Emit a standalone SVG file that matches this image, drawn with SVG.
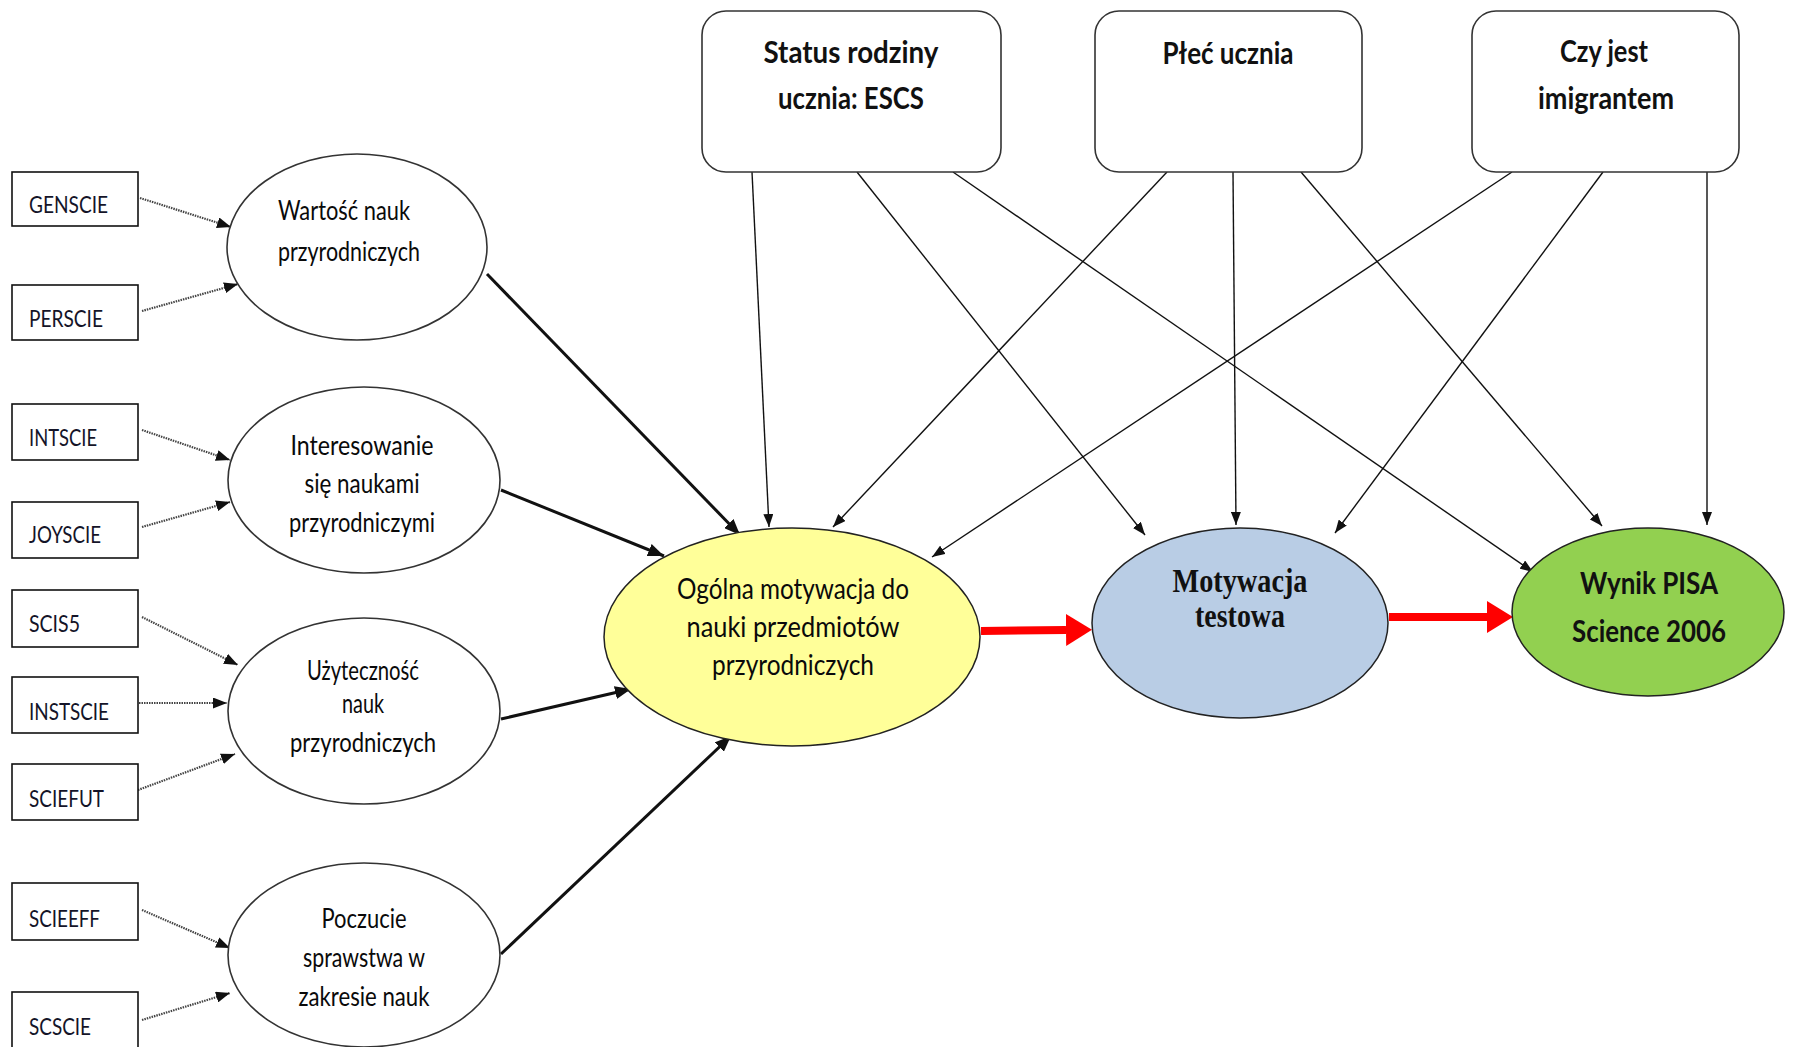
<svg xmlns="http://www.w3.org/2000/svg" width="1793" height="1047" viewBox="0 0 1793 1047">
<style>
.bg{fill:#fff}
.topbox{fill:#fff;stroke:#333;stroke-width:1.6}
.ind{fill:#fff;stroke:#111;stroke-width:1.6}
.lat{fill:#fff;stroke:#333;stroke-width:1.6}
.main{stroke:#222;stroke-width:1.5}
.tb{font-family:Lato,"Liberation Sans",sans-serif;font-weight:bold;font-size:31px;fill:#111;text-anchor:middle}
.ti{font-family:Lato,"Liberation Sans",sans-serif;font-size:23px;fill:#141428}
.te{font-family:Lato,"Liberation Sans",sans-serif;font-size:26px;fill:#0a0a0a;text-anchor:middle}
.tg{font-family:Lato,"Liberation Sans",sans-serif;font-size:29px;fill:#0a0a0a;text-anchor:middle}
.tw{font-family:Lato,"Liberation Sans",sans-serif;font-weight:bold;font-size:30px;fill:#111;text-anchor:middle}
.ts{font-family:"Liberation Serif","Times New Roman",serif;font-weight:bold;font-size:34px;fill:#111;text-anchor:middle}
.thin{fill:none;stroke:#111;stroke-width:1.4;marker-end:url(#aThin)}
.thick{fill:none;stroke:#111;stroke-width:3;marker-end:url(#aThick)}
.dot{fill:none;stroke:#444;stroke-width:2.2;stroke-dasharray:1.5 1;marker-end:url(#aDot)}
.red{fill:none;stroke:#ff0000;stroke-width:8;marker-end:url(#aRed)}
</style>
<defs>
<marker id="aThin" markerUnits="userSpaceOnUse" markerWidth="13" markerHeight="10" refX="13" refY="5" orient="auto"><path d="M0,0 L13,5 L0,10 z" fill="#111"/></marker>
<marker id="aThick" markerUnits="userSpaceOnUse" markerWidth="16" markerHeight="13" refX="16" refY="6.5" orient="auto"><path d="M0,0 L16,6.5 L0,13 z" fill="#111"/></marker>
<marker id="aDot" markerUnits="userSpaceOnUse" markerWidth="14" markerHeight="11" refX="14" refY="5.5" orient="auto"><path d="M0,0 L14,5.5 L0,11 z" fill="#111"/></marker>
<marker id="aRed" markerUnits="userSpaceOnUse" markerWidth="26" markerHeight="32" refX="0" refY="16" orient="auto"><path d="M0,0 L26,16 L0,32 z" fill="#ff0000"/></marker>
</defs>
<rect class="bg" x="0" y="0" width="1793" height="1047"/>

<g id="connectors">
<line class="dot" x1="140" y1="198" x2="231" y2="227"/>
<line class="dot" x1="142" y1="311" x2="238" y2="284"/>
<line class="dot" x1="142" y1="430" x2="230" y2="460"/>
<line class="dot" x1="142" y1="527" x2="230" y2="502"/>
<line class="dot" x1="142" y1="617" x2="238" y2="665"/>
<line class="dot" x1="139" y1="703" x2="227" y2="703"/>
<line class="dot" x1="138" y1="790" x2="235" y2="754"/>
<line class="dot" x1="142" y1="910" x2="230" y2="948"/>
<line class="dot" x1="142" y1="1020" x2="230" y2="993"/>
<line class="thick" x1="487" y1="274" x2="740" y2="535"/>
<line class="thick" x1="501" y1="490" x2="664" y2="556"/>
<line class="thick" x1="501" y1="719" x2="631" y2="689"/>
<line class="thick" x1="501" y1="954" x2="731" y2="736"/>
<line class="thin" x1="752" y1="172" x2="769" y2="527"/>
<line class="thin" x1="857" y1="172" x2="1145" y2="535"/>
<line class="thin" x1="953" y1="172" x2="1533" y2="572"/>
<line class="thin" x1="1167" y1="172" x2="833" y2="527"/>
<line class="thin" x1="1233" y1="172" x2="1236" y2="525"/>
<line class="thin" x1="1301" y1="172" x2="1602" y2="526"/>
<line class="thin" x1="1512" y1="172" x2="932" y2="557"/>
<line class="thin" x1="1603" y1="172" x2="1335" y2="533"/>
<line class="thin" x1="1707" y1="172" x2="1707" y2="525"/>
<line class="red" x1="981" y1="631" x2="1066" y2="630"/>
<line class="red" x1="1389" y1="617" x2="1487" y2="617"/>
</g>

<g id="status">
<rect class="topbox" x="702" y="11" width="299" height="161" rx="24"/>
<text class="tb" x="851" y="63" textLength="175" lengthAdjust="spacingAndGlyphs">Status rodziny</text>
<text class="tb" x="851" y="109" textLength="146" lengthAdjust="spacingAndGlyphs">ucznia: ESCS</text>
</g>
<g id="plec">
<rect class="topbox" x="1095" y="11" width="267" height="161" rx="24"/>
<text class="tb" x="1228" y="64" textLength="131" lengthAdjust="spacingAndGlyphs">Płeć ucznia</text>
</g>
<g id="imigrant">
<rect class="topbox" x="1472" y="11" width="267" height="161" rx="24"/>
<text class="tb" x="1604" y="62" textLength="88" lengthAdjust="spacingAndGlyphs">Czy jest</text>
<text class="tb" x="1606" y="109" textLength="136" lengthAdjust="spacingAndGlyphs">imigrantem</text>
</g>

<g id="genscie"><rect class="ind" x="12" y="172" width="126" height="54"/><text class="ti" x="29" y="213" textLength="79" lengthAdjust="spacingAndGlyphs">GENSCIE</text></g>
<g id="perscie"><rect class="ind" x="12" y="285" width="126" height="55"/><text class="ti" x="29" y="327" textLength="74" lengthAdjust="spacingAndGlyphs">PERSCIE</text></g>
<g id="intscie"><rect class="ind" x="12" y="404" width="126" height="56"/><text class="ti" x="29" y="446" textLength="68" lengthAdjust="spacingAndGlyphs">INTSCIE</text></g>
<g id="joyscie"><rect class="ind" x="12" y="502" width="126" height="56"/><text class="ti" x="29" y="543" textLength="72" lengthAdjust="spacingAndGlyphs">JOYSCIE</text></g>
<g id="scis5"><rect class="ind" x="12" y="590" width="126" height="57"/><text class="ti" x="29" y="632" textLength="51" lengthAdjust="spacingAndGlyphs">SCIS5</text></g>
<g id="instscie"><rect class="ind" x="12" y="677" width="126" height="56"/><text class="ti" x="29" y="720" textLength="80" lengthAdjust="spacingAndGlyphs">INSTSCIE</text></g>
<g id="sciefut"><rect class="ind" x="12" y="764" width="126" height="56"/><text class="ti" x="29" y="807" textLength="75" lengthAdjust="spacingAndGlyphs">SCIEFUT</text></g>
<g id="scieeff"><rect class="ind" x="12" y="883" width="126" height="57"/><text class="ti" x="29" y="927" textLength="71" lengthAdjust="spacingAndGlyphs">SCIEEFF</text></g>
<g id="scscie"><rect class="ind" x="12" y="992" width="126" height="70"/><text class="ti" x="29" y="1035" textLength="62" lengthAdjust="spacingAndGlyphs">SCSCIE</text></g>

<g id="wartosc">
<ellipse class="lat" cx="357" cy="247" rx="130" ry="93"/>
<text class="te" x="344" y="220" textLength="132" lengthAdjust="spacingAndGlyphs">Wartość nauk</text>
<text class="te" x="349" y="261" textLength="142" lengthAdjust="spacingAndGlyphs">przyrodniczych</text>
</g>
<g id="interesowanie">
<ellipse class="lat" cx="364" cy="480" rx="136" ry="93"/>
<text class="te" x="362" y="455" textLength="143" lengthAdjust="spacingAndGlyphs">Interesowanie</text>
<text class="te" x="362" y="493" textLength="115" lengthAdjust="spacingAndGlyphs">się naukami</text>
<text class="te" x="362" y="532" textLength="146" lengthAdjust="spacingAndGlyphs">przyrodniczymi</text>
</g>
<g id="uzytecznosc">
<ellipse class="lat" cx="364" cy="711" rx="136" ry="93"/>
<text class="te" x="363" y="680" textLength="112" lengthAdjust="spacingAndGlyphs">Użyteczność</text>
<text class="te" x="363" y="713" textLength="42" lengthAdjust="spacingAndGlyphs">nauk</text>
<text class="te" x="363" y="752" textLength="146" lengthAdjust="spacingAndGlyphs">przyrodniczych</text>
</g>
<g id="poczucie">
<ellipse class="lat" cx="364" cy="955" rx="136" ry="92"/>
<text class="te" x="364" y="928" textLength="85" lengthAdjust="spacingAndGlyphs">Poczucie</text>
<text class="te" x="364" y="967" textLength="122" lengthAdjust="spacingAndGlyphs">sprawstwa w</text>
<text class="te" x="364" y="1006" textLength="131" lengthAdjust="spacingAndGlyphs">zakresie nauk</text>
</g>

<g id="ogolna">
<ellipse class="main" cx="792" cy="637" rx="188" ry="109" fill="#ffff99"/>
<text class="tg" x="793" y="599" textLength="232" lengthAdjust="spacingAndGlyphs">Ogólna motywacja do</text>
<text class="tg" x="793" y="637" textLength="213" lengthAdjust="spacingAndGlyphs">nauki przedmiotów</text>
<text class="tg" x="793" y="675" textLength="162" lengthAdjust="spacingAndGlyphs">przyrodniczych</text>
</g>
<g id="motywacja">
<ellipse class="main" cx="1240" cy="623" rx="148" ry="95" fill="#b9cde5"/>
<text class="ts" x="1240" y="592" textLength="135" lengthAdjust="spacingAndGlyphs">Motywacja</text>
<text class="ts" x="1240" y="627" textLength="90" lengthAdjust="spacingAndGlyphs">testowa</text>
</g>
<g id="wynik">
<ellipse class="main" cx="1648" cy="612" rx="136" ry="84" fill="#92d050"/>
<text class="tw" x="1649" y="594" textLength="138" lengthAdjust="spacingAndGlyphs">Wynik PISA</text>
<text class="tw" x="1649" y="642" textLength="154" lengthAdjust="spacingAndGlyphs">Science 2006</text>
</g>
</svg>
